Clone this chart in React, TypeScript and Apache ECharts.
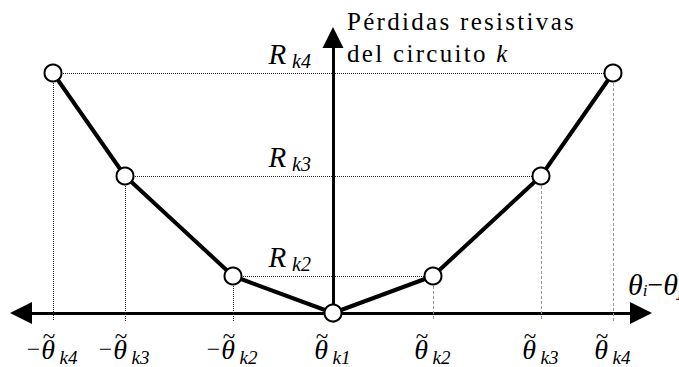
import React, { useEffect, useRef } from "react";
import * as echarts from "echarts";

// Angle breakpoints θ̃k1..θ̃k4 (the curve is symmetric about 0)
const THETA = [0, 1.0, 2.08, 2.8];
// Resistive losses at each breakpoint: Rk1 (= 0), Rk2, Rk3, Rk4
const LOSSES = [0, 0.37, 1.37, 2.4];
// Subscripts used in the tick and level labels
const SUBS = ["k1", "k2", "k3", "k4"];
// Breakpoints that get a level label and guide lines
const LEVEL_INDEX = [1, 2, 3];

const SERIF = "'Liberation Serif', 'Times New Roman', serif";
const X_MIN = -3.12;
const X_MAX = 3.08;
const Y_MIN = -0.08;
const Y_MAX = 2.755;
const NAME_SPACING = 2.3;

// token widths used to keep the tilde centred over θ
const MINUS_W = 14;
const THETA_W = 15;
const SUB_W = 22;

// Piecewise-linear loss curve, from −θ̃k4 through 0 up to θ̃k4
const curvePoints: [number, number][] = [];
for (let i = THETA.length - 1; i >= 1; i--) curvePoints.push([-THETA[i], LOSSES[i]]);
for (let i = 0; i < THETA.length; i++) curvePoints.push([THETA[i], LOSSES[i]]);

const tickValues: number[] = curvePoints.map((p) => p[0]);

function thetaIndex(v: number): number {
  let best = 0;
  for (let i = 0; i < THETA.length; i++) {
    if (Math.abs(Math.abs(v) - THETA[i]) < Math.abs(Math.abs(v) - THETA[best])) best = i;
  }
  return best;
}

export default function App() {
  const ref = useRef<HTMLDivElement>(null);

  useEffect(() => {
    if (!ref.current) return;
    const chart = echarts.init(ref.current, null, { renderer: "svg" });

    const dotted = { type: "dotted", color: "#222", width: 1 };
    const dashedGrey = { type: [3, 2], color: "#999", width: 1 };

    const guides: any[] = [];
    LEVEL_INDEX.forEach((i) => {
      // left half of the level line carries the R label next to the vertical axis
      guides.push([
        {
          coord: [-THETA[i], LOSSES[i]],
          lineStyle: dotted,
          label: {
            show: true,
            position: "insideEndTop",
            distance: [22, 2],
            formatter: `{r|R}{s|${SUBS[i]}}`,
            rich: {
              r: { fontFamily: SERIF, fontStyle: "italic", fontSize: 29, color: "#000" },
              s: { fontFamily: SERIF, fontStyle: "italic", fontSize: 20, color: "#000", padding: [14, 0, 0, 6] },
            },
          },
        },
        { coord: [0, LOSSES[i]] },
      ]);
      guides.push([{ coord: [0, LOSSES[i]], lineStyle: dotted }, { coord: [THETA[i], LOSSES[i]] }]);
      guides.push([{ coord: [-THETA[i], LOSSES[i]], lineStyle: dotted }, { coord: [-THETA[i], Y_MIN] }]);
      guides.push([{ coord: [THETA[i], LOSSES[i]], lineStyle: dashedGrey }, { coord: [THETA[i], Y_MIN] }]);
    });

    chart.setOption({
      animation: false,
      backgroundColor: "#fff",
      grid: { left: 21, right: 38, top: 37.5, bottom: 46, containLabel: false, outerBoundsMode: "none" },
      xAxis: {
        type: "value",
        min: X_MIN,
        max: X_MAX,
        name: "{t|θ}{i|i}{m|−}{t|θ}{i|j}",
        nameLocation: "end",
        nameGap: -13,
        nameTextStyle: {
          align: "left",
          verticalAlign: "bottom",
          padding: [0, 0, 14, 0],
          rich: {
            t: { fontFamily: SERIF, fontStyle: "italic", fontSize: 30, color: "#000" },
            i: { fontFamily: SERIF, fontStyle: "italic", fontSize: 17, color: "#000", padding: [12, 0, 0, 0] },
            m: { fontFamily: SERIF, fontSize: 28, color: "#000" },
          },
        },
        axisLine: {
          onZero: true,
          symbol: ["triangle", "triangle"],
          symbolSize: [22, 22],
          lineStyle: { color: "#000", width: 3 },
        },
        axisTick: { show: false },
        splitLine: { show: false },
        axisLabel: {
          customValues: tickValues,
          margin: 11,
          formatter: (v: number) => {
            const i = thetaIndex(v);
            const signed = v < -1e-9;
            const top = `${signed ? "{pm| }" : ""}{tl|~}{ps| }`;
            const bottom = `${signed ? "{m|−}" : ""}{t|θ}{s|${SUBS[i]}}`;
            return `${top}\n${bottom}`;
          },
          rich: {
            pm: { width: MINUS_W, fontSize: 10, lineHeight: 9 },
            ps: { width: SUB_W, fontSize: 10, lineHeight: 9 },
            tl: {
              width: THETA_W,
              align: "center",
              fontFamily: SERIF,
              fontSize: 23,
              lineHeight: 9,
              color: "#000",
            },
            m: {
              width: MINUS_W,
              align: "center",
              fontFamily: SERIF,
              fontSize: 24,
              lineHeight: 24,
              color: "#000",
              padding: [0, 0, 8, 0],
            },
            t: {
              width: THETA_W,
              align: "center",
              fontFamily: SERIF,
              fontStyle: "italic",
              fontSize: 28,
              lineHeight: 24,
              color: "#000",
              padding: [0, 0, 8, 0],
            },
            s: {
              width: SUB_W,
              align: "left",
              fontFamily: SERIF,
              fontStyle: "italic",
              fontSize: 19,
              lineHeight: 19,
              color: "#000",
              padding: [8, 0, 0, 2],
            },
          },
        },
      },
      yAxis: {
        type: "value",
        min: Y_MIN,
        max: Y_MAX,
        name: "{a|Pérdidas resistivas}\n{a|del circuito }{k|k}",
        nameLocation: "end",
        nameGap: 32,
        nameTextStyle: {
          align: "left",
          verticalAlign: "top",
          padding: [0, 0, 0, 14],
          lineHeight: 32,
          rich: {
            a: { fontFamily: SERIF, fontSize: 25, color: "#000", lineHeight: 32 },
            k: {
              fontFamily: SERIF,
              fontStyle: "italic",
              fontSize: 25,
              color: "#000",
              lineHeight: 32,
              padding: [0, 0, 0, 13 * NAME_SPACING],
            },
          },
        },
        axisLine: {
          onZero: true,
          symbol: ["none", "triangle"],
          symbolSize: [21, 21],
          lineStyle: { color: "#000", width: 3 },
        },
        axisTick: { show: false },
        splitLine: { show: false },
        axisLabel: { show: false },
      },
      series: [
        {
          type: "line",
          data: curvePoints,
          z: 3,
          symbol: "circle",
          symbolSize: 17,
          showAllSymbol: true,
          lineStyle: { color: "#000", width: 4 },
          itemStyle: { color: "#fff", borderColor: "#000", borderWidth: 2 },
          emphasis: { disabled: true },
          markLine: {
            silent: true,
            z: 1,
            symbol: ["none", "none"],
            label: { show: false },
            emphasis: { disabled: true },
            data: guides,
          },
        },
      ],
    });

    // widen the tracking of the vertical axis caption
    ref.current.querySelectorAll("text").forEach((t) => {
      const s = t.textContent || "";
      if (s === "Pérdidas resistivas" || s === "del circuito ") {
        t.setAttribute("letter-spacing", String(NAME_SPACING));
      }
    });

    return () => chart.dispose();
  }, []);

  return (
    <div
      ref={ref}
      style={{ position: "absolute", left: 0, top: 0, width: 679, height: 367, background: "#fff" }}
    />
  );
}
